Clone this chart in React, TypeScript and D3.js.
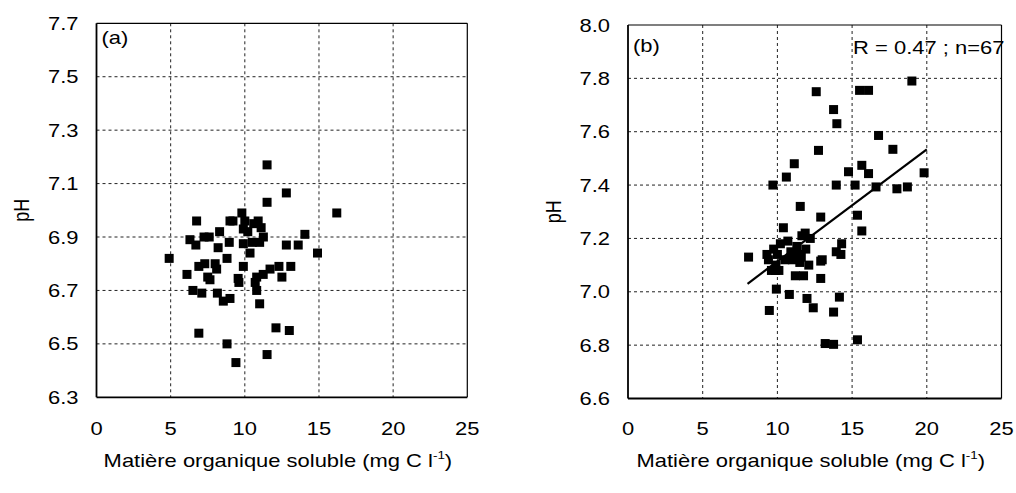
import React from 'react';
import * as d3 from 'd3';

const xTicks = [0, 5, 10, 15, 20, 25];
const yTicksA = [6.3, 6.5, 6.7, 6.9, 7.1, 7.3, 7.5, 7.7];
const yTicksB = [6.6, 6.8, 7.0, 7.2, 7.4, 7.6, 7.8, 8.0];

const pointsA: [number, number][] = [
  [4.9, 6.82], [6.1, 6.76], [6.3, 6.89], [6.5, 6.7], [6.7, 6.87], [6.75, 6.96],
  [6.9, 6.79], [6.9, 6.54], [7.1, 6.69], [7.25, 6.9], [7.3, 6.8], [7.5, 6.75],
  [7.65, 6.74], [8.1, 6.78], [8.15, 6.69], [8.2, 6.86], [8.3, 6.92], [8.55, 6.66],
  [8.8, 6.82], [8.8, 6.5], [8.95, 6.88], [9.0, 6.96], [9.0, 6.67], [9.2, 6.96],
  [9.4, 6.43], [9.55, 6.745], [9.6, 6.73], [9.8, 6.99], [9.9, 6.93], [9.9, 6.875],
  [9.9, 6.79], [10.0, 6.96], [10.35, 6.84], [10.7, 6.73], [10.8, 6.7], [10.8, 6.75],
  [10.9, 6.96], [11.0, 6.65], [11.1, 6.935], [11.25, 6.9], [11.24, 6.76], [11.5, 7.17],
  [11.5, 7.03], [11.5, 6.46], [11.7, 6.78], [12.1, 6.56], [12.3, 6.79], [12.5, 6.75],
  [12.8, 7.065], [12.8, 6.87], [13.0, 6.55], [13.1, 6.79], [13.6, 6.87], [14.05, 6.91],
  [14.9, 6.84], [16.2, 6.99], [10.5, 6.88], [10.2, 6.92], [11.0, 6.88], [10.6, 6.95],
  [8.0, 6.8], [7.6, 6.9],
];

const pointsB: [number, number][] = [
  [8.07, 7.13], [9.3, 7.14], [9.46, 6.93], [9.6, 7.08], [9.7, 7.4], [9.75, 7.16],
  [9.86, 7.08], [9.93, 7.01], [10.0, 7.14], [10.2, 7.18], [10.4, 7.24], [10.6, 7.43],
  [10.8, 6.99], [10.5, 7.12], [11.13, 7.48], [11.4, 7.14], [11.5, 7.11], [11.53, 7.32],
  [11.64, 7.21], [11.75, 7.06], [11.86, 7.22], [11.98, 6.975], [11.6, 7.13], [12.4, 6.94],
  [12.6, 7.75], [12.75, 7.53], [12.9, 7.28], [12.9, 7.115], [12.9, 7.05], [13.2, 6.806],
  [13.76, 6.803], [13.76, 6.924], [13.76, 7.683], [13.94, 7.4], [13.94, 7.15], [13.98, 7.63],
  [14.15, 6.98], [14.25, 7.14], [14.3, 7.18], [14.76, 7.45], [15.2, 7.4], [15.36, 7.287],
  [15.36, 6.82], [15.5, 7.755], [15.65, 7.474], [15.65, 7.228], [16.1, 7.755], [16.1, 7.443],
  [16.6, 7.393], [16.77, 7.586], [17.73, 7.534], [18.0, 7.386], [18.7, 7.393], [19.0, 7.79],
  [19.82, 7.446], [11.0, 7.12], [10.9, 7.15], [11.2, 7.06], [12.1, 7.1], [9.4, 7.12],
  [10.1, 7.08], [11.9, 7.16], [10.7, 7.19], [12.2, 7.2], [11.3, 7.17], [9.9, 7.1], [13.0, 7.12],
];

const fitSlope = 0.042;
const fitIntercept = 6.694;
const fitRange = [8, 20];

const xTitleMain = 'Matière organique soluble (mg C l';
const xTitleSup = '-1';
const yTitle = 'pH';
const annotationB = 'R = 0.47 ; n=67';

const SX = 1.22;
const FONT = '"Liberation Sans", Arial, Helvetica, sans-serif';
const FS = 18;

function T({ x, y, anchor = 'start', children, rotate = false, size = FS }: any) {
  const tf = `translate(${x},${y}) scale(${SX},1)${rotate ? ' rotate(-90)' : ''}`;
  return (
    <text transform={tf} textAnchor={anchor} fontSize={size} fontFamily={FONT} fill="#000">
      {children}
    </text>
  );
}

function Panel({ left, right, top, bottom, yDomain, yTicks, points, label, labelY, fit, annotation, yTitleX }: any) {
  const x = d3.scaleLinear().domain([0, 25]).range([left, right]);
  const y = d3.scaleLinear().domain(yDomain).range([bottom, top]);
  const sq = 9;
  const line = fit
    ? d3.line<number>().x((v) => x(v)).y((v) => y(fitIntercept + fitSlope * v))(fitRange)
    : null;
  const cx = (left + right) / 2 - 4;
  return (
    <g>
      {xTicks.slice(1, -1).map((t) => (
        <line key={'gx' + t} x1={x(t)} x2={x(t)} y1={top} y2={bottom} stroke="#222" strokeWidth={1} strokeDasharray="3,3" />
      ))}
      {yTicks.slice(1, -1).map((t: number) => (
        <line key={'gy' + t} x1={left} x2={right} y1={y(t)} y2={y(t)} stroke="#222" strokeWidth={1} strokeDasharray="3,3" />
      ))}
      <line x1={left} x2={right} y1={top} y2={top} stroke="#000" strokeWidth={1.2} />
      <line x1={right} x2={right} y1={top} y2={bottom} stroke="#000" strokeWidth={1.2} />
      <line x1={left} x2={left} y1={top} y2={bottom} stroke="#000" strokeWidth={1.8} />
      <line x1={left} x2={right} y1={bottom} y2={bottom} stroke="#000" strokeWidth={1.8} />
      {points.map((p: [number, number], i: number) => (
        <rect key={i} x={x(p[0]) - sq / 2} y={y(p[1]) - sq / 2} width={sq} height={sq} fill="#000" />
      ))}
      {line && <path d={line} stroke="#000" strokeWidth={2.2} fill="none" />}
      {yTicks.map((t: number) => (
        <T key={'ly' + t} x={left - 18} y={y(t) + 6.5} anchor="end">{d3.format('.1f')(t)}</T>
      ))}
      {xTicks.map((t) => (
        <T key={'lx' + t} x={x(t)} y={435} anchor="middle">{String(t)}</T>
      ))}
      <text transform={`translate(${cx},467) scale(${SX},1)`} textAnchor="middle" fontSize={FS} fontFamily={FONT} fill="#000">
        {xTitleMain}
        <tspan fontSize={11} dy={-8}>{xTitleSup}</tspan>
        <tspan dy={8}>)</tspan>
      </text>
      <T x={yTitleX} y={(top + bottom) / 2} anchor="middle" rotate>{yTitle}</T>
      <T x={left + 5} y={labelY}>{label}</T>
      {annotation && <T x={x(15) + 1} y={54}>{annotation}</T>}
    </g>
  );
}

export default function App() {
  return (
    <svg width={1016} height={493} style={{ position: 'absolute', left: 0, top: 0, display: 'block', background: '#fff' }}>
      <Panel left={96.5} right={467.3} top={23.3} bottom={397.3} yDomain={[6.3, 7.7]} yTicks={yTicksA}
        points={pointsA} label="(a)" labelY={44} yTitleX={29} />
      <Panel left={628} right={1001.5} top={25} bottom={398.5} yDomain={[6.6, 8.0]} yTicks={yTicksB}
        points={pointsB} label="(b)" labelY={52} fit annotation={annotationB} yTitleX={561} />
    </svg>
  );
}
